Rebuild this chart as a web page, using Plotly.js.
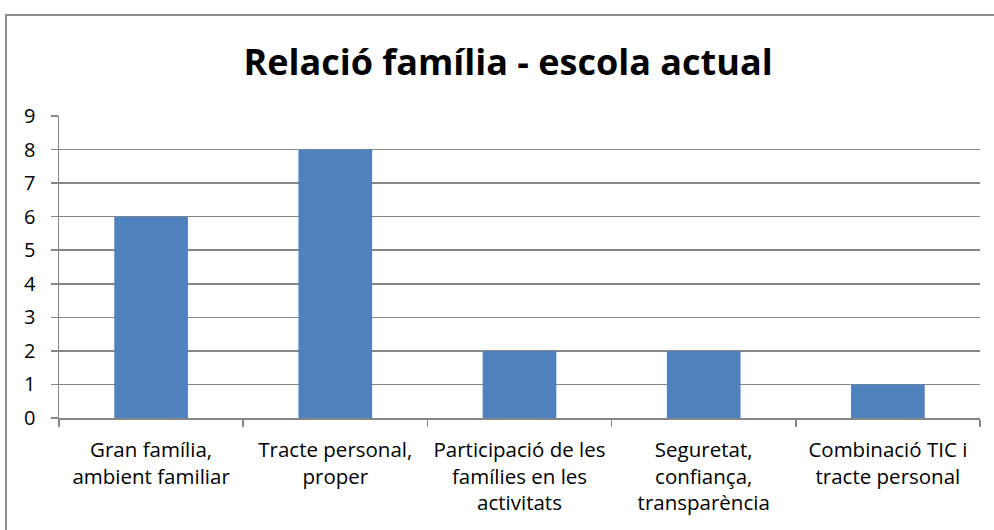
<!DOCTYPE html>
<html>
<head>
<meta charset="utf-8">
<script src="https://cdn.plot.ly/plotly-3.0.1.min.js"></script>
<style>
  html, body { margin: 0; padding: 0; background: #fff; overflow: hidden; }
  #wrap { position: relative; width: 994px; height: 530px; }
  #chart { position: absolute; left: 0; top: 0; width: 994px; height: 530px; }
  #frame { position: absolute; left: 5px; top: 14px; width: 1100px; height: 700px;
           border: 2px solid #8c8c8c; box-sizing: border-box; pointer-events: none; }
</style>
</head>
<body>
<div id="wrap">
  <div id="chart"></div>
  <div id="frame"></div>
</div>
<script>
const categories = [
  "Gran família,<br>ambient familiar",
  "Tracte personal,<br>proper",
  "Participació de les<br>famílies en les<br>activitats",
  "Seguretat,<br>confiança,<br>transparència",
  "Combinació TIC i<br>tracte personal"
];
const values = [6, 8, 2, 2, 1];
const yTicks = [0, 1, 2, 3, 4, 5, 6, 7, 8, 9];
const chartTitle = "Relació família - escola actual";

const font = "'Open Sans', 'Noto Sans', 'DejaVu Sans', sans-serif";

Plotly.newPlot("chart", [{
  type: "bar",
  x: categories,
  y: values,
  marker: { color: "#4F81BD", line: { width: 0 } },
  hoverinfo: "x+y"
}], {
  width: 994,
  height: 530,
  paper_bgcolor: "#ffffff",
  plot_bgcolor: "#ffffff",
  margin: { l: 59, r: 14, t: 116, b: 112 },
  bargap: 0.6,
  showlegend: false,
  title: {
    text: "<b>" + chartTitle + "</b>",
    font: { family: font, size: 36, color: "#000" },
    x: 508 / 994, xanchor: "center",
    y: 1 - 62 / 530, yanchor: "middle"
  },
  xaxis: {
    type: "category",
    showline: true, linecolor: "#868686", linewidth: 1.5,
    ticks: "outside", tickson: "boundaries", ticklen: 7, tickcolor: "#868686", tickwidth: 1.5,
    showgrid: false,
    tickfont: { family: font, size: 20.5, color: "#000" },
    ticklabelstandoff: 13,
    fixedrange: true
  },
  yaxis: {
    range: [0, 9],
    tickvals: yTicks,
    ticktext: yTicks.map(String),
    showline: true, linecolor: "#868686", linewidth: 1.5,
    ticks: "outside", ticklen: 7, tickcolor: "#868686", tickwidth: 1.5,
    showgrid: true, gridcolor: "#868686", gridwidth: 1.5,
    zeroline: false,
    tickfont: { family: font, size: 20, color: "#000" },
    ticklabelstandoff: 11,
    fixedrange: true
  }
}, { displayModeBar: false, staticPlot: true });
</script>
</body>
</html>
